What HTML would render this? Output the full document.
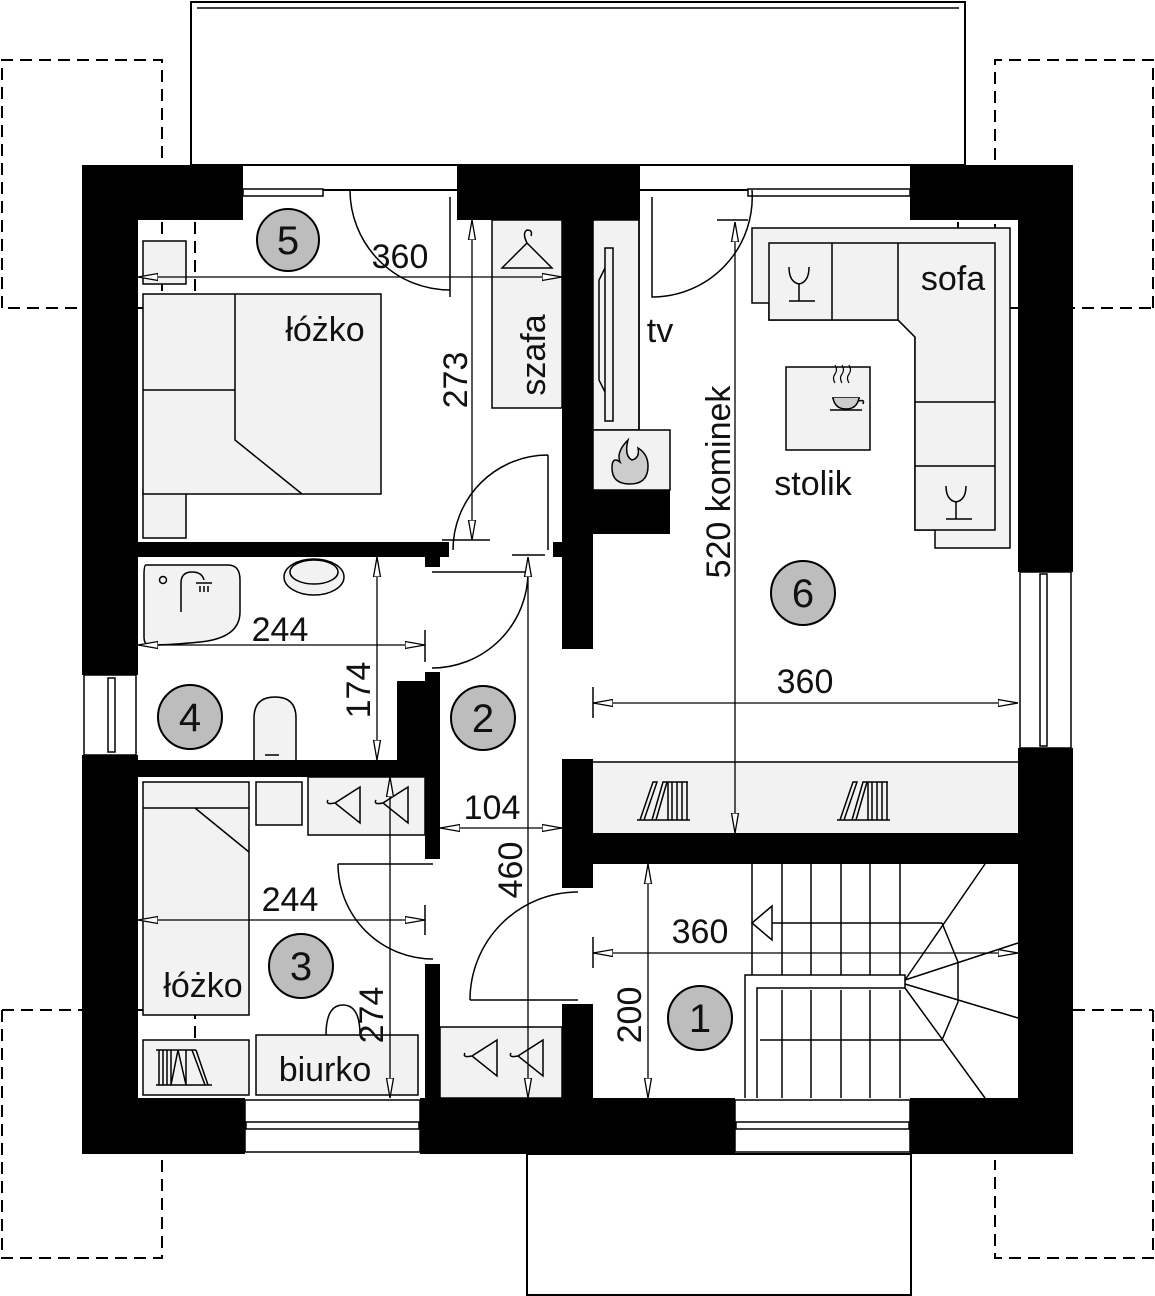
<!DOCTYPE html>
<html><head><meta charset="utf-8"><style>
html,body{margin:0;padding:0;background:#fff}
svg{display:block}
text{font-family:"Liberation Sans Narrow","Liberation Sans",sans-serif;fill:#111}
</style></head><body>
<svg width="1155" height="1296" viewBox="0 0 1155 1296" xmlns="http://www.w3.org/2000/svg">
<defs>
<marker id="a" viewBox="0 0 20 10" refX="20" refY="5" markerWidth="20" markerHeight="10" markerUnits="userSpaceOnUse" orient="auto-start-reverse"><path d="M0,1.5 L20,5 L0,8.5 Z" fill="#fff" stroke="#000" stroke-width="1.3"/></marker>
</defs>
<g fill="none" stroke="#000" stroke-width="2">
<rect x="191" y="2" width="774" height="163"/>
<line x1="197" y1="8" x2="959" y2="8" stroke-width="1.5"/>
<rect x="527" y="1154" width="384" height="141"/>
</g>
<g fill="none" stroke="#000" stroke-width="2" stroke-dasharray="12,7">
<path d="M2,308 V60 H162 V308 H2 M195,165 V308 H138"/>
<path d="M1153,308 V60 H995 V308 H1153 M958,165 V308 H1018"/>
<path d="M2,1010 V1258 H162 V1154 M2,1010 H195 V1098"/>
<path d="M1153,1010 V1258 H995 V1160 M1073,1010 H1153"/>
</g>
<g fill="#000">
<rect x="82" y="165" width="56" height="510"/>
<rect x="82" y="755" width="56" height="399"/>
<rect x="82" y="165" width="161" height="55"/>
<rect x="457" y="165" width="183" height="55"/>
<rect x="910" y="165" width="163" height="55"/>
<rect x="1018" y="165" width="55" height="407"/>
<rect x="1018" y="748" width="55" height="406"/>
<rect x="82" y="1098" width="163" height="56"/>
<rect x="420" y="1098" width="315" height="56"/>
<rect x="910" y="1098" width="163" height="56"/>
<rect x="138" y="542" width="311" height="15"/>
<rect x="425" y="555" width="15" height="12"/>
<rect x="553" y="542" width="12" height="15"/>
<rect x="562" y="220" width="31" height="429"/>
<rect x="593" y="490" width="77" height="44"/>
<rect x="138" y="760" width="292" height="17"/>
<rect x="397" y="681" width="43" height="80"/>
<rect x="425" y="672" width="15" height="187"/>
<rect x="425" y="964" width="15" height="136"/>
<rect x="562" y="759" width="31" height="129"/>
<rect x="562" y="1004" width="31" height="96"/>
<rect x="562" y="833" width="456" height="31"/>
</g>
<g fill="#fff" stroke="#000" stroke-width="1.5">
<line x1="243" y1="190" x2="910" y2="190" stroke-width="2"/>
<rect x="243" y="189" width="80" height="7"/>
<rect x="748" y="189" width="162" height="7"/>
<rect x="84" y="675" width="52" height="80"/>
<rect x="108" y="678" width="7" height="74"/>
<rect x="245" y="1100" width="175" height="52"/>
<rect x="246" y="1122" width="173" height="7"/>
<rect x="735" y="1100" width="175" height="52"/>
<rect x="736" y="1122" width="173" height="7"/>
<rect x="1020" y="572" width="51" height="176"/>
<rect x="1040" y="574" width="7" height="172"/>
</g>
<g fill="#f2f2f2" stroke="#000" stroke-width="1.5">
<rect x="143" y="241" width="43" height="43"/>
<rect x="143" y="490" width="43" height="48"/>
<rect x="143" y="294" width="238" height="200"/>
<rect x="492" y="220" width="70" height="188"/>
<rect x="593" y="220" width="46" height="210"/>
<rect x="593" y="430" width="77" height="60"/>
<rect x="593" y="762" width="425" height="71" stroke="none"/>
<path d="M752,228 H1010 V548 H935 V530 H915 V337 L898,320 H769 V303 H752 Z"/>
<path d="M769,243 H995 V530 H915 V337 L898,320 H769 Z"/>
<rect x="786" y="367" width="84" height="83"/>
<rect x="143" y="782" width="106" height="233"/>
<rect x="256" y="782" width="46" height="43"/>
<rect x="308" y="777" width="117" height="58"/>
<rect x="256" y="1035" width="162" height="60"/>
<rect x="143" y="1040" width="106" height="55"/>
<rect x="440" y="1027" width="122" height="71"/>
<path d="M146,565 H228 Q240,565 240,580 V612 Q240,638 200,642 Q170,645 150,645 Q144,645 144,637 V575 Q144,565 146,565 Z" fill="#f2f2f2"/>
<ellipse cx="314" cy="577" rx="30" ry="18"/>
<path d="M254,760 V718 Q254,697 275,697 Q296,697 296,718 V760" />
</g>
<g fill="none" stroke="#000" stroke-width="1.5">
<line x1="593" y1="762" x2="1018" y2="762"/>
<path d="M235,294 V440 L302,494 M143,390 H235"/>
<rect x="605" y="248" width="8" height="173"/>
<path d="M605,268 L599,280 V380 L605,392"/>
<line x1="639" y1="220" x2="639" y2="430"/>
<line x1="832" y1="243" x2="832" y2="320"/>
<line x1="898" y1="243" x2="898" y2="320"/>
<line x1="915" y1="402" x2="995" y2="402"/>
<line x1="915" y1="466" x2="995" y2="466"/>
<path d="M143,808 H249 M195,808 L249,852"/>
<ellipse cx="314" cy="572" rx="24" ry="12"/>
<path d="M181,612 V583 Q181,572 192,572 Q202,572 204,580"/>
<path d="M196,583 H212 M200,586 V592 M204,586 V592 M208,586 V592"/>
<circle cx="163" cy="580" r="3.5"/>
<path d="M265,755 H279"/>
<path d="M326,1035 Q326,1005 343,1005 Q360,1005 360,1035"/>
<path d="M527,268 L502,268 L527,243 L552,268 Z M527,243 Q522,233 527,230 Q533,230 531,236"/>
<path d="M360,787 L360,823 L335,803 Z M335,803 Q325,805 328,800"/>
<path d="M408,787 L408,823 L383,803 Z M383,803 Q373,805 376,800"/>
<path d="M497,1040 L497,1076 L472,1056 Z M472,1056 Q462,1058 465,1053"/>
<path d="M543,1040 L543,1076 L518,1056 Z M518,1056 Q508,1058 511,1053"/>
<path d="M637,820 H690 M640,820 L653,782 H657 L644,820 M652,820 L663,782 H667 L656,820 M668,782 V820 M672,782 V820 M677,782 V820 M682,782 V820 M687,782 V820 M668,782 H688"/>
<path d="M837,820 H890 M840,820 L853,782 H857 L844,820 M852,820 L863,782 H867 L856,820 M868,782 V820 M872,782 V820 M877,782 V820 M882,782 V820 M887,782 V820 M868,782 H888"/>
<path d="M156,1085 H212 M159,1050 V1085 M163,1050 V1085 M167,1050 V1085 M171,1050 V1085 L178,1050 L186,1085 M186,1050 V1085 M192,1050 L205,1085 M196,1050 L208,1085 M156,1050 H196"/>
<path d="M789,267 Q789,282 799,284 Q809,282 809,267 M799,284 V301 M789,301 H815"/>
<path d="M946,486 Q946,500 956,502 Q966,500 966,486 M956,502 V519 M946,519 H972"/>
<path d="M835,383 q-3,-5 0,-9 q3,-4 0,-9 M842,383 q-3,-5 0,-9 q3,-4 0,-9 M849,383 q-3,-5 0,-9 q3,-4 0,-9" stroke-width="1.2"/>
<path d="M832,398 H860 M830,410 H862"/>
<path d="M833,398 Q835,409 846,409 Q857,409 859,398 M859,401 Q865,399 863,404" fill="#ccc"/>
<path d="M350,190 A100,100 0 0 0 450,290 M450,197 V297"/>
<path d="M652,197 V297 A100,100 0 0 0 752,190"/>
<path d="M548,455 V550 M548,455 A95,95 0 0 0 453,550"/>
<path d="M432,572 H528 M528,572 A96,96 0 0 1 432,668"/>
<path d="M338,864 H433 M338,864 A95,95 0 0 0 433,959"/>
<path d="M470,1000 H578 M470,1000 A108,108 0 0 1 578,892"/>
<path d="M752,864 V1098 M782,864 V975 M811,864 V975 M841,864 V975 M870,864 V975 M900,864 V975 M782,990 V1098 M811,990 V1098 M841,990 V1098 M870,990 V1098 M900,990 V1098"/>
<path d="M760,923 H942 M760,1040 H942"/>
<path d="M745,1098 V975 H905 V988 H757 V1098" fill="#fff"/>
<path d="M905,980 L985,864 M905,980 L1018,943 M905,984 L1018,1018 M905,988 L985,1098"/>
<path d="M942,923 L958,962 V1002 L942,1040"/>
<path d="M772,906 L752,923 L772,940 Z" fill="#fff"/>
<line x1="138" y1="277" x2="562" y2="277" marker-start="url(#a)" marker-end="url(#a)" stroke-width="1.3"/>
<line x1="472" y1="220" x2="472" y2="540" marker-start="url(#a)" marker-end="url(#a)" stroke-width="1.3"/>
<line x1="442" y1="540" x2="490" y2="540"/>
<line x1="735" y1="222" x2="735" y2="833" marker-start="url(#a)" marker-end="url(#a)" stroke-width="1.3"/>
<line x1="717" y1="220" x2="748" y2="220"/>
<line x1="377" y1="557" x2="377" y2="760" marker-start="url(#a)" marker-end="url(#a)" stroke-width="1.3"/>
<line x1="138" y1="645" x2="425" y2="645" marker-start="url(#a)" marker-end="url(#a)" stroke-width="1.3"/>
<line x1="425" y1="630" x2="425" y2="662"/>
<line x1="528" y1="557" x2="528" y2="1098" marker-start="url(#a)" marker-end="url(#a)" stroke-width="1.3"/>
<line x1="512" y1="555" x2="545" y2="555"/>
<line x1="440" y1="828" x2="562" y2="828" marker-start="url(#a)" marker-end="url(#a)" stroke-width="1.3"/>
<line x1="138" y1="920" x2="425" y2="920" marker-start="url(#a)" marker-end="url(#a)" stroke-width="1.3"/>
<line x1="425" y1="905" x2="425" y2="935"/>
<line x1="390" y1="777" x2="390" y2="1098" marker-start="url(#a)" marker-end="url(#a)" stroke-width="1.3"/>
<line x1="593" y1="703" x2="1018" y2="703" marker-start="url(#a)" marker-end="url(#a)" stroke-width="1.3"/>
<line x1="593" y1="687" x2="593" y2="718"/>
<line x1="593" y1="953" x2="1018" y2="953" marker-start="url(#a)" marker-end="url(#a)" stroke-width="1.3"/>
<line x1="593" y1="937" x2="593" y2="968"/>
<line x1="648" y1="864" x2="648" y2="1098" marker-start="url(#a)" marker-end="url(#a)" stroke-width="1.3"/>
</g>
<path d="M628,440 Q616,452 620,462 Q612,456 612,468 Q612,484 630,484 Q648,484 648,466 Q648,454 638,448 Q640,458 632,460 Q624,456 628,440 Z" fill="#ccc" stroke="#000" stroke-width="1.5"/>
<g fill="#bdbdbd" stroke="#000" stroke-width="2">
<circle cx="288" cy="240" r="31"/>
<circle cx="803" cy="593" r="32"/>
<circle cx="483" cy="718" r="32"/>
<circle cx="190" cy="717" r="32"/>
<circle cx="301" cy="966" r="32"/>
<circle cx="700" cy="1018" r="32"/>
</g>
<g font-size="40" text-anchor="middle">
<text x="288" y="254">5</text>
<text x="803" y="607">6</text>
<text x="483" y="732">2</text>
<text x="190" y="731">4</text>
<text x="301" y="980">3</text>
<text x="700" y="1032">1</text>
</g>
<g font-size="34" text-anchor="middle">
<text x="400" y="268">360</text>
<text x="805" y="693">360</text>
<text x="700" y="943">360</text>
<text x="280" y="641">244</text>
<text x="290" y="911">244</text>
<text x="492" y="819">104</text>
<text transform="translate(467,380) rotate(-90)">273</text>
<text transform="translate(370,690) rotate(-90)">174</text>
<text transform="translate(522,870) rotate(-90)">460</text>
<text transform="translate(383,1015) rotate(-90)">274</text>
<text transform="translate(641,1015) rotate(-90)">200</text>
<text transform="translate(730,482) rotate(-90)">520 kominek</text>
<text x="325" y="341">łóżko</text>
<text x="203" y="997">łóżko</text>
<text x="325" y="1081">biurko</text>
<text x="813" y="495">stolik</text>
<text x="953" y="290">sofa</text>
<text x="660" y="342">tv</text>
<text transform="translate(545,355) rotate(-90)">szafa</text>
</g>
</svg>
</body></html>
